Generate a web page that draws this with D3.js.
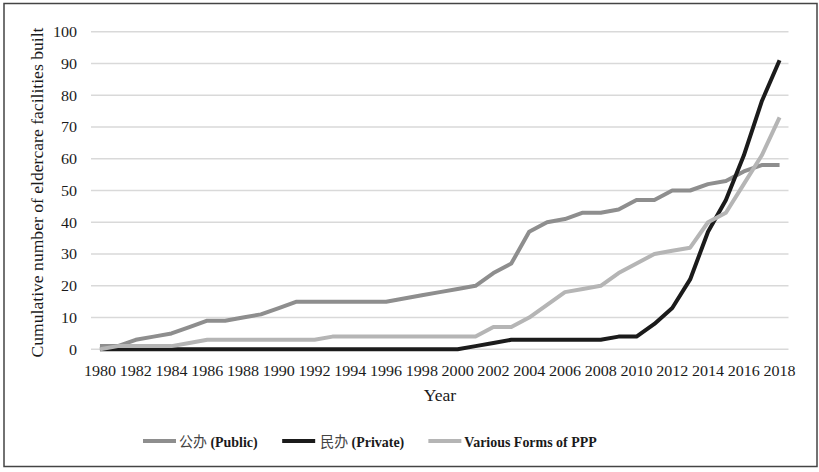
<!DOCTYPE html>
<html>
<head>
<meta charset="utf-8">
<script src="https://cdn.jsdelivr.net/npm/d3@7"></script>
<style>
  body { margin: 0; background: #fff; }
  svg text { font-family: 'Liberation Serif', 'Times New Roman', Times, serif; }
  svg tspan.cjk { font-family: 'Noto Sans CJK SC', sans-serif; font-weight: normal; }
</style>
</head>
<body>
<div id="chart"></div>
<script>
// years 1980..2018
var years = d3.range(1980, 2019);
var yearTicks = d3.range(1980, 2019, 2);
var yTicks = d3.range(0, 101, 10);

// cumulative counts
var publicVals = [1, 1, 3, 4, 5, 7, 9, 9, 10, 11, 13, 15, 15, 15, 15, 15, 15, 16, 17, 18,
                  19, 20, 24, 27, 37, 40, 41, 43, 43, 44, 47, 47, 50, 50, 52, 53, 56, 58, 58];
var privateVals = [0, 0, 0, 0, 0, 0, 0, 0, 0, 0, 0, 0, 0, 0, 0, 0, 0, 0, 0, 0,
                   0, 1, 2, 3, 3, 3, 3, 3, 3, 4, 4, 8, 13, 22, 37, 47, 61, 78, 91];
var pppVals = [0, 1, 1, 1, 1, 2, 3, 3, 3, 3, 3, 3, 3, 4, 4, 4, 4, 4, 4, 4,
               4, 4, 7, 7, 10, 14, 18, 19, 20, 24, 27, 30, 31, 32, 40, 43, 52, 61, 73];

// legend labels: chinese part + english part
var seriesCjk = ["公办", "民办", ""];
var seriesLatin = [" (Public)", " (Private)", "Various Forms of PPP"];
var seriesColors = ["#8e8e8e", "#1b1b1b", "#b5b5b5"];

var width = 819, height = 472;

var svg = d3.select("#chart")
    .append("svg")
    .attr("width", width)
    .attr("height", height);

// outer frame
svg.append("rect")
    .attr("x", 4).attr("y", 3.5)
    .attr("width", 813).attr("height", 463)
    .attr("fill", "none")
    .attr("stroke", "#444")
    .attr("stroke-width", 1.5);

var x = d3.scaleBand()
    .domain(years)
    .range([91, 788.5]);

var y = d3.scaleLinear()
    .domain([0, 100])
    .range([349.3, 31.7]);

function cx(yr) { return x(yr) + x.bandwidth() / 2; }

// scale text width to match the slightly stretched source figure
function stretch(sel, k) {
    sel.each(function () {
        var len = this.getComputedTextLength();
        d3.select(this)
            .attr("textLength", len * k)
            .attr("lengthAdjust", "spacingAndGlyphs");
    });
}

// gridlines
svg.append("g")
    .selectAll("line")
    .data(yTicks)
    .enter()
    .append("line")
    .attr("x1", 91).attr("x2", 788.5)
    .attr("y1", function (d) { return y(d); })
    .attr("y2", function (d) { return y(d); })
    .attr("stroke", "#d9d9d9")
    .attr("stroke-width", 1.5);

// y axis
var yAxisG = svg.append("g")
    .attr("transform", "translate(91,0)")
    .call(d3.axisLeft(y).tickValues(yTicks).tickSize(0).tickPadding(14));
yAxisG.select(".domain").remove();
yAxisG.attr("font-family", null);
yAxisG.selectAll("text")
    .attr("font-size", 15)
    .attr("fill", "#1a1a1a")
    .call(stretch, 1.07);

// x axis
var xAxisG = svg.append("g")
    .attr("transform", "translate(0," + y(0) + ")")
    .call(d3.axisBottom(x).tickValues(yearTicks).tickSize(0).tickPadding(16));
xAxisG.select(".domain").remove();
xAxisG.attr("font-family", null);
xAxisG.selectAll("text")
    .attr("font-size", 15)
    .attr("fill", "#1a1a1a")
    .call(stretch, 1.07);

// axis titles
svg.append("text")
    .attr("x", 440).attr("y", 401)
    .attr("text-anchor", "middle")
    .attr("font-size", 16)
    .attr("fill", "#1a1a1a")
    .text("Year")
    .call(stretch, 1.1);

svg.append("text")
    .attr("transform", "translate(43,192.5) rotate(-90)")
    .attr("text-anchor", "middle")
    .attr("font-size", 16)
    .attr("fill", "#1a1a1a")
    .text("Cumulative number of eldercare facilities built")
    .call(stretch, 1.1);

// lines
var line = d3.line()
    .x(function (d) { return cx(d.year); })
    .y(function (d) { return y(d.value); });

var allSeries = [publicVals, privateVals, pppVals].map(function (vals, i) {
    return {
        cjk: seriesCjk[i],
        latin: seriesLatin[i],
        color: seriesColors[i],
        points: years.map(function (yr, j) { return { year: yr, value: vals[j] }; })
    };
});

svg.append("g")
    .selectAll("path")
    .data(allSeries)
    .enter()
    .append("path")
    .attr("d", function (d) { return line(d.points); })
    .attr("fill", "none")
    .attr("stroke", function (d) { return d.color; })
    .attr("stroke-width", 4)
    .attr("stroke-linejoin", "round");

// legend
var legend = svg.append("g").attr("transform", "translate(143,441)");
var lx = 0;
allSeries.forEach(function (s, i) {
    var item = legend.append("g").attr("transform", "translate(" + lx + ",0)");
    item.append("line")
        .attr("x1", 0).attr("x2", 33)
        .attr("y1", 0).attr("y2", 0)
        .attr("stroke", s.color)
        .attr("stroke-width", 4);
    var tx = i === 1 ? 38 : 36;
    var t = item.append("text")
        .attr("x", tx)
        .attr("y", 5.5)
        .attr("font-size", 15)
        .attr("font-weight", "bold")
        .attr("fill", "#1a1a1a");
    if (s.cjk) {
        t.append("tspan").attr("class", "cjk").attr("fill", "#444").text(s.cjk);
    }
    t.append("tspan").text(s.latin);
    t.call(stretch, 0.93);
    lx += tx + t.node().getComputedTextLength() * 0.93 + 30;
});
</script>
</body>
</html>
